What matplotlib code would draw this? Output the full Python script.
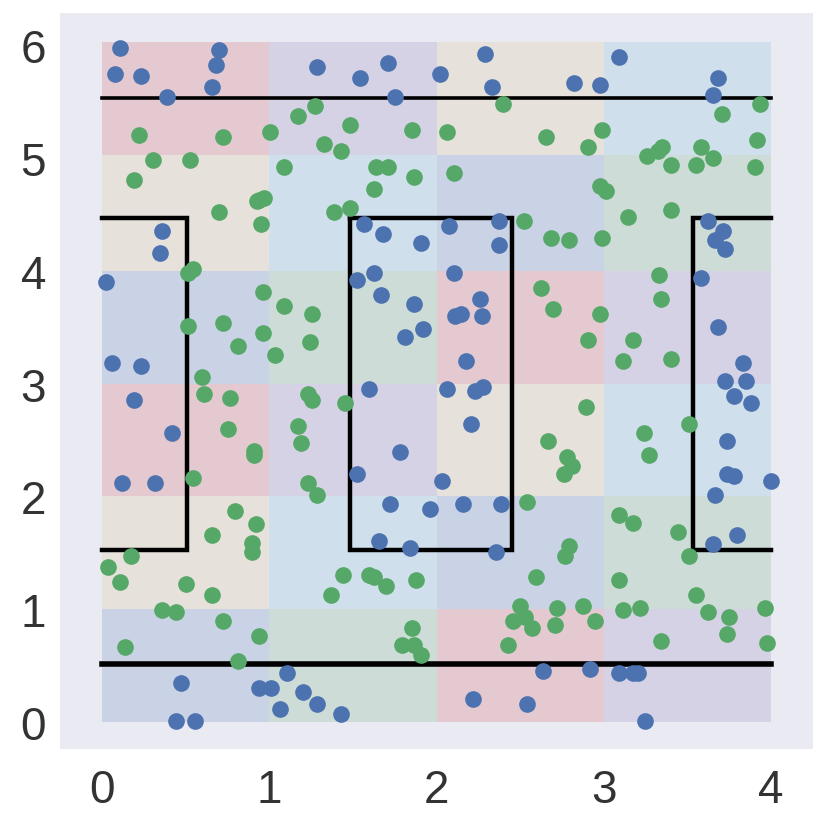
#!/usr/bin/env python
import matplotlib
matplotlib.use("Agg")
import matplotlib.pyplot as plt
from matplotlib.colors import ListedColormap
import numpy as np

plt.rcParams['font.family'] = ['Liberation Sans', 'DejaVu Sans']

x_edges = [0, 1, 2, 3, 4]
y_edges = [0, 1, 2, 3, 4, 5.03, 6.03]

# colour index of each cell, bottom row first
cells = [[0, 1, 2, 3],
         [4, 5, 0, 1],
         [2, 3, 4, 5],
         [0, 1, 2, 3],
         [4, 5, 0, 1],
         [2, 3, 4, 5]]
cell_colors = ["#cad2e6", "#cddcd6", "#e4c9d1", "#d6d2e6", "#e6e1da", "#cfdfec"]

blue_x = [.108, .080, .233, .387, .698, .682, .656, 1.286, 1.541, 1.710, 1.752, 2.021,
          .359, .345, .022, .062, .233, 1.569, 1.682, 1.907, 1.624, 1.527, 1.668, 1.865,
          1.921, 1.810, 1.596, .191, .417, .120, .317, 1.782, 1.527, 1.724, 1.963, 1.654,
          1.839, .472, .937, 1.008, 1.104, 1.204, 1.287, 1.062, 1.429, .444, .556,
          2.290, 2.332, 2.822, 2.978, 3.089, 3.683, 3.653, 2.075, 2.374, 2.374, 2.105,
          2.260, 2.147, 2.111, 2.274, 2.176, 3.621, 3.711, 3.665, 3.723, 3.581, 3.683,
          3.835, 3.723, 3.851, 2.065, 2.230, 2.276, 2.204, 2.035, 2.161, 2.386, 2.358,
          3.779, 3.879, 3.739, 3.739, 3.779, 3.999, 3.665, 3.795, 3.653, 2.639, 2.920,
          3.089, 3.177, 3.207, 2.218, 2.541, 3.245]
blue_y = [5.98, 5.75, 5.73, 5.54, 5.96, 5.83, 5.63, 5.81, 5.71, 5.84, 5.54, 5.75,
          4.35, 4.16, 3.90, 3.18, 3.16, 4.42, 4.33, 4.25, 3.98, 3.92, 3.79, 3.71,
          3.48, 3.41, 2.95, 2.85, 2.56, 2.12, 2.12, 2.39, 2.20, 1.93, 1.89, 1.60,
          1.54, .34, .30, .30, .43, .26, .16, .11, .07, .01, .01,
          5.92, 5.63, 5.67, 5.65, 5.90, 5.71, 5.56, 4.40, 4.44, 4.23, 3.98,
          3.75, 3.62, 3.60, 3.60, 3.20, 4.44, 4.35, 4.27, 4.19, 3.94, 3.50,
          3.18, 3.02, 3.02, 2.95, 2.93, 2.97, 2.64, 2.14, 1.93, 1.93, 1.51,
          2.89, 2.83, 2.49, 2.20, 2.18, 2.14, 2.01, 1.66, 1.58, .45, .47,
          .43, .43, .43, .20, .16, .01]

green_x = [.219, .725, 1.004, 1.174, 1.276, 1.483, 1.329, 1.429, 1.852, .303, .528, .191,
           1.090, 1.638, 1.712, 1.865, 1.624, .969, .941, .925, .698, .951, 1.485, 1.387,
           .542, .516, .512, .965, 1.090, 1.258, .725, .965, .811, 1.246, 1.034, .598,
           .612, .765, .753, .909, .909, 1.230, 1.258, 1.174, 1.188, 1.455, 1.230, 1.286,
           .542, .797, .923, .656, .895, .895, .175, .036, .106, .500, .656, .359, .444,
           .725, .937, .136, .811, 1.443, 1.596, 1.624, 1.696, 1.879, 1.371, 1.852, 1.796,
           1.865, 1.907, 2.400, 3.934, 3.709, 3.918, 2.063, 2.653, 2.992, 2.906, 3.346,
           3.326, 3.257, 3.400, 3.581, 3.653, 3.554, 3.906, 2.105, 2.978, 3.011, 3.145,
           3.400, 2.525, 2.683, 2.794, 2.992, 3.328, 3.342, 2.625, 2.696, 2.978, 2.908,
           3.173, 3.117, 3.400, 2.892, 2.667, 2.780, 2.808, 2.764, 3.243, 3.271, 3.510,
           2.539, 3.089, 3.173, 3.442, 2.794, 2.766, 3.510, 2.597, 3.089, 3.554, 2.499,
           2.527, 2.455, 2.569, 2.723, 2.709, 2.878, 2.948, 3.117, 3.217, 3.625, 3.749,
           3.737, 3.964, 3.974, 3.342, 2.428]
green_y = [5.21, 5.19, 5.23, 5.37, 5.46, 5.29, 5.13, 5.06, 5.25, 4.98, 4.98, 4.81,
           4.92, 4.92, 4.92, 4.83, 4.73, 4.65, 4.63, 4.62, 4.52, 4.42, 4.56, 4.52,
           4.02, 3.98, 3.51, 3.81, 3.69, 3.62, 3.54, 3.45, 3.33, 3.37, 3.25, 3.06,
           2.91, 2.87, 2.60, 2.40, 2.37, 2.91, 2.85, 2.62, 2.47, 2.83, 2.12, 2.01,
           2.16, 1.87, 1.75, 1.66, 1.59, 1.51, 1.47, 1.37, 1.24, 1.22, 1.12, .99, .97,
           .89, .76, .66, .54, 1.30, 1.30, 1.28, 1.20, 1.26, 1.12, .83, .68,
           .68, .59, 5.48, 5.48, 5.39, 5.16, 5.23, 5.19, 5.25, 5.10, 5.10,
           5.06, 5.02, 4.94, 5.10, 5.00, 4.94, 4.92, 4.87, 4.75, 4.71, 4.48,
           4.54, 4.44, 4.29, 4.27, 4.29, 3.96, 3.75, 3.85, 3.66, 3.62, 3.39,
           3.39, 3.20, 3.22, 2.79, 2.49, 2.35, 2.27, 2.20, 2.56, 2.37, 2.64,
           1.95, 1.83, 1.76, 1.68, 1.56, 1.47, 1.47, 1.28, 1.26, 1.12, 1.03,
           .93, .89, .83, 1.01, .86, 1.03, .89, .99, 1.01, .97, .93,
           .78, 1.01, .70, .72, .68]

# decision boundary pieces
hi_line = 5.53
lo_line = 0.515
box_top = 4.47
box_bottom = 1.525
left_x = 0.51
mid_x0, mid_x1 = 1.48, 2.45
right_x = 3.533
x_min, x_max = 0, 3.998

fig = plt.figure(figsize=(8.3, 8.28), dpi=100)
ax = fig.add_axes([60 / 830, 1 - 750 / 828, 753 / 830, 736 / 828])
ax.set_facecolor("#eaeaf2")
for s in ax.spines.values():
    s.set_visible(False)

ax.pcolormesh(x_edges, y_edges, np.array(cells), cmap=ListedColormap(cell_colors),
              vmin=-0.5, vmax=5.5, linewidth=0, zorder=1)

ax.plot([x_min, x_max], [hi_line, hi_line], color="k", lw=2.6, zorder=2)
ax.plot([x_min, x_max], [lo_line, lo_line], color="k", lw=4.0, zorder=2)
ax.plot([x_min, left_x, left_x, x_min], [box_top, box_top, box_bottom, box_bottom],
        color="k", lw=3.2, solid_joinstyle="miter", zorder=2)
ax.plot([mid_x0, mid_x1, mid_x1, mid_x0, mid_x0],
        [box_top, box_top, box_bottom, box_bottom, box_top],
        color="k", lw=3.2, solid_joinstyle="miter", zorder=2)
ax.plot([x_max, right_x, right_x, x_max], [box_top, box_top, box_bottom, box_bottom],
        color="k", lw=3.2, solid_joinstyle="miter", zorder=2)

ax.scatter(blue_x, blue_y, s=144, color="#4c72b0", linewidths=0, zorder=3, clip_on=False)
ax.scatter(green_x, green_y, s=144, color="#55a868", linewidths=0, zorder=4, clip_on=False)

ax.set_xlim(-0.251, 4.251)
ax.set_ylim(-0.242, 6.288)
ax.set_xticks(range(5))
ax.set_yticks(range(7))
ax.tick_params(length=0, labelsize=33, labelcolor="#333333")
ax.tick_params(axis="x", pad=14)
ax.tick_params(axis="y", pad=10)

fig.savefig("out.png", dpi=100)
